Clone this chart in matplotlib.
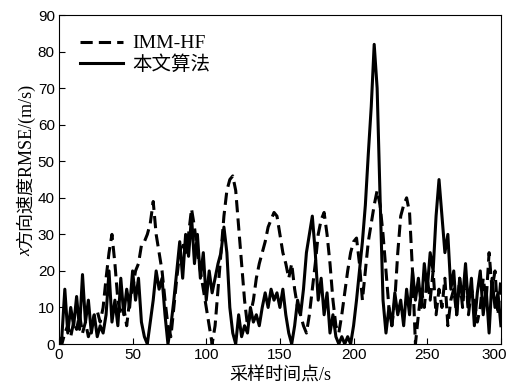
import numpy as np
import matplotlib
matplotlib.use("Agg")
import matplotlib.pyplot as plt
from matplotlib.transforms import ScaledTranslation

# --- DATA ---
t = np.arange(0, 301, 2)

imm_hf = [1, 0, 3, 5, 2, 6, 4, 8, 3, 6, 2, 5, 8, 9, 6, 10, 18, 25, 30, 22,
          12, 8, 10, 5, 12, 15, 20, 22, 27, 28, 30, 33, 39, 30, 25, 20, 12, 5, 2, 10,
          18, 25, 28, 25, 30, 37, 32, 25, 20, 15, 10, 5, 0, 5, 15, 25, 35, 42, 45, 46,
          42, 32, 22, 12, 5, 8, 12, 18, 22, 25, 28, 32, 34, 36, 35, 30, 25, 22, 18, 22,
          15, 10, 8, 5, 3, 8, 15, 22, 30, 34, 36, 30, 22, 12, 5, 3, 8, 14, 20, 25,
          28, 29, 22, 12, 20, 28, 33, 38, 42, 38, 30, 20, 10, 5, 12, 25, 35, 38, 40, 36,
          20, 0, 8, 15, 10, 18, 12, 20, 8, 15, 10, 18, 5, 12, 15, 8, 18, 10, 20, 8,
          15, 12, 6, 10, 18, 12, 25, 15, 20, 8, 18]

proposed = [0, 2, 15, 3, 10, 5, 13, 4, 19, 6, 12, 3, 8, 2, 5, 3, 8, 20, 6, 12,
            5, 18, 8, 15, 10, 20, 12, 18, 6, 2, 0, 6, 12, 20, 15, 18, 8, 0, 5, 12,
            20, 28, 18, 30, 24, 35, 22, 30, 18, 25, 12, 20, 14, 18, 22, 25, 32, 25, 10, 3,
            0, 8, 2, 5, 3, 10, 6, 8, 5, 10, 14, 10, 15, 12, 14, 10, 15, 8, 3, 0,
            5, 12, 8, 15, 25, 30, 35, 25, 12, 18, 8, 14, 3, 8, 2, 0, 2, 0, 2, 0,
            5, 12, 20, 28, 38, 52, 65, 82, 70, 40, 12, 3, 10, 5, 14, 8, 12, 5, 15, 8,
            20, 12, 18, 10, 22, 15, 25, 20, 35, 45, 35, 25, 30, 15, 20, 8, 18, 12, 22, 10,
            18, 5, 14, 20, 8, 15, 3, 18, 10, 14, 5]

# --- PLOT ---
plt.rcParams['font.family'] = ['Liberation Serif', 'Noto Sans CJK SC']

fig = plt.figure(figsize=(5.08, 3.88), dpi=100)
ax = fig.add_axes([0.116, 0.1134, 0.870, 0.8476])

ax.plot(t, imm_hf, color='black', lw=2.2, dashes=(4, 2), label='IMM-HF')
ax.plot(t, proposed, color='black', lw=2.2, label='本文算法')

ax.set_xlim(0, 300)
ax.set_ylim(0, 90)
ax.set_xticks(range(0, 301, 50))
ax.set_yticks(range(0, 91, 10))
ax.tick_params(direction='in', length=4, labelsize=11, pad=3)
for lab in ax.get_xticklabels() + ax.get_yticklabels():
    lab.set_family('Liberation Sans')
# keep the last x tick label inside the picture
last = ax.get_xticklabels()[-1]
last.set_transform(last.get_transform() + ScaledTranslation(-0.07, 0, fig.dpi_scale_trans))

ax.set_xlabel('采样时间点/s', fontsize=13, labelpad=4)
ax.set_ylabel('方向速度RMSE/(m/s)', fontsize=13, labelpad=2)
ax.yaxis.label.set_y(0.54)

ax.legend(loc='upper left', frameon=False, fontsize=14, handlelength=2.2,
          bbox_to_anchor=(0.03, 0.964), borderaxespad=0, labelspacing=0.15,
          handletextpad=0.5)

# italic x in front of the y label
fig.canvas.draw()
bb = ax.yaxis.label.get_window_extent()
fig.text((bb.x0 + bb.x1) / 2 / fig.bbox.width, bb.y0 / fig.bbox.height, 'x',
         rotation=90, style='italic', fontsize=13, ha='center', va='top')

fig.savefig('out.png', dpi=100)
